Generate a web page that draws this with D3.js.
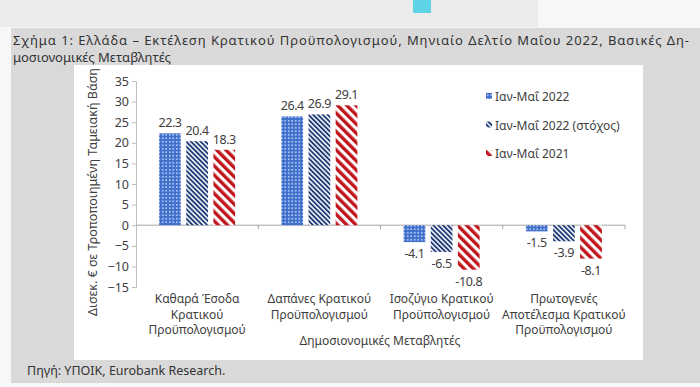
<!DOCTYPE html>
<html>
<head>
<meta charset="utf-8">
<script src="https://cdn.jsdelivr.net/npm/d3@7"></script>
<style>
  body { margin: 0; background: #f7f7f7; }
  svg text { font-family: "Noto Sans", sans-serif; fill: #404040; }
</style>
</head>
<body>
<div id="chart"></div>
<script>
var categories = [
  ["Καθαρά Έσοδα", "Κρατικού", "Προϋπολογισμού"],
  ["Δαπάνες Κρατικού", "Προϋπολογισμού"],
  ["Ισοζύγιο Κρατικού", "Προϋπολογισμού"],
  ["Πρωτογενές", "Αποτέλεσμα Κρατικού", "Προϋπολογισμού"]
];
var seriesNames = ["Ιαν-Μαΐ 2022", "Ιαν-Μαΐ 2022 (στόχος)", "Ιαν-Μαΐ 2021"];
var actual2022 = [22.3, 26.4, -4.1, -1.5];
var target2022 = [20.4, 26.9, -6.5, -3.9];
var actual2021 = [18.3, 29.1, -10.8, -8.1];
var yTicks = [35, 30, 25, 20, 15, 10, 5, 0, -5, -10, -15];

var width = 700, height = 387;

var svg = d3.select("#chart").append("svg")
    .attr("width", width).attr("height", height);

/* patterns */
var defs = svg.append("defs");
var dots = defs.append("pattern").attr("id", "dots")
    .attr("patternUnits", "userSpaceOnUse").attr("width", 3.5).attr("height", 3.5);
dots.append("rect").attr("width", 3.5).attr("height", 3.5).attr("fill", "#3f6fcc");
dots.append("circle").attr("cx", 1.75).attr("cy", 1.75).attr("r", 0.8).attr("fill", "#dfe8fb");

var navy = defs.append("pattern").attr("id", "navy")
    .attr("patternUnits", "userSpaceOnUse").attr("width", 3.4).attr("height", 3.4)
    .attr("patternTransform", "rotate(-45)");
navy.append("rect").attr("width", 3.4).attr("height", 3.4).attr("fill", "#ffffff");
navy.append("rect").attr("width", 1.9).attr("height", 3.4).attr("fill", "#1f3a78");

var red = defs.append("pattern").attr("id", "red")
    .attr("patternUnits", "userSpaceOnUse").attr("width", 6.5).attr("height", 6.5)
    .attr("patternTransform", "rotate(-45)");
red.append("rect").attr("width", 6.5).attr("height", 6.5).attr("fill", "#ffffff");
red.append("rect").attr("width", 3.4).attr("height", 6.5).attr("fill", "#c0161c");

var fills = ["url(#dots)", "url(#navy)", "url(#red)"];

/* background panels */
svg.append("rect").attr("x", 0).attr("y", 0).attr("width", 538).attr("height", 27).attr("fill", "#ebebeb");
svg.append("rect").attr("x", 413).attr("y", 0).attr("width", 18).attr("height", 13).attr("fill", "#5fd3e6");
svg.append("rect").attr("x", 11).attr("y", 28).attr("width", 689).attr("height", 355).attr("fill", "#d9d9d9");
svg.append("rect").attr("x", 74).attr("y", 65).attr("width", 569).attr("height", 295).attr("fill", "#ffffff");

/* title */
var title = svg.append("text").attr("x", 13).attr("y", 45)
    .style("font-size", "13px").style("fill", "#333");
title.append("tspan").attr("x", 13).attr("textLength", 676)
    .text("Σχήμα 1: Ελλάδα – Εκτέλεση Κρατικού Προϋπολογισμού, Μηνιαίο Δελτίο Μαΐου 2022, Βασικές Δη-");
title.append("tspan").attr("x", 13).attr("dy", 16.5)
    .text("μοσιονομικές Μεταβλητές");

var x0 = d3.scaleBand().domain(d3.range(categories.length))
    .range([136, 625]).padding(0);
var x1 = d3.scaleBand().domain(d3.range(3))
    .range([0, 76]).paddingInner(0.2);
var y = d3.scaleLinear().domain([-15, 35]).range([287, 81]);

/* y axis */
var yAxis = svg.append("g").attr("transform", "translate(136,0)")
    .call(d3.axisLeft(y).tickValues(yTicks).tickSize(4).tickPadding(3));
yAxis.select(".domain").attr("stroke", "#bfbfbf");
yAxis.selectAll(".tick line").attr("stroke", "#bfbfbf");
yAxis.selectAll(".tick text").style("font-size", "12.5px").style("fill", "#404040");

/* zero line */
svg.append("line").attr("x1", 136).attr("x2", 625)
    .attr("y1", y(0)).attr("y2", y(0)).attr("stroke", "#a6a6a6");
svg.selectAll(".ctick").data(d3.range(1, categories.length + 1)).enter()
    .append("line")
    .attr("x1", function(d) { return 136 + d * x0.bandwidth(); })
    .attr("x2", function(d) { return 136 + d * x0.bandwidth(); })
    .attr("y1", y(0)).attr("y2", y(0) + 4).attr("stroke", "#a6a6a6");

/* bars */
var series = [actual2022, target2022, actual2021];
var rows = [];
series.forEach(function(s, si) {
  s.forEach(function(v, ci) { rows.push({s: si, c: ci, v: v}); });
});

var offset = (x0.bandwidth() - 76) / 2;
svg.selectAll(".bar").data(rows).enter().append("rect")
    .attr("x", function(d) { return x0(d.c) + offset + x1(d.s); })
    .attr("width", x1.bandwidth())
    .attr("y", function(d) { return y(Math.max(0, d.v)); })
    .attr("height", function(d) { return Math.abs(y(d.v) - y(0)); })
    .attr("fill", function(d) { return fills[d.s]; });

svg.selectAll(".lbl").data(rows).enter().append("text")
    .attr("x", function(d) { return x0(d.c) + offset + x1(d.s) + x1.bandwidth() / 2; })
    .attr("y", function(d) { return d.v >= 0 ? y(d.v) - 6 : y(d.v) + 16; })
    .attr("text-anchor", "middle")
    .style("font-size", "12.5px")
    .style("letter-spacing", "-0.4px")
    .text(function(d) { return d.v.toFixed(1); });

/* category labels */
categories.forEach(function(lines, i) {
  var t = svg.append("text")
      .attr("x", x0(i) + x0.bandwidth() / 2)
      .attr("y", 303)
      .attr("text-anchor", "middle")
      .style("font-size", "12px");
  lines.forEach(function(l, k) {
    t.append("tspan").attr("x", x0(i) + x0.bandwidth() / 2)
        .attr("dy", k == 0 ? 0 : 15.5).text(l);
  });
});

svg.append("text").attr("x", 380).attr("y", 345)
    .attr("text-anchor", "middle").style("font-size", "12px")
    .text("Δημοσιονομικές Μεταβλητές");

svg.append("text")
    .attr("transform", "translate(97,192) rotate(-90)")
    .attr("text-anchor", "middle").style("font-size", "12.5px")
    .text("Δισεκ. € σε Τροποποιημένη Ταμειακή Βάση");

/* legend */
var legend = svg.selectAll(".leg").data(seriesNames).enter().append("g")
    .attr("transform", function(d, i) { return "translate(486," + (97 + i * 28.5) + ")"; });
legend.append("rect").attr("x", 0).attr("y", -4).attr("width", 6).attr("height", 6)
    .attr("fill", function(d, i) { return fills[i]; });
legend.append("text").attr("x", 9).attr("y", 4)
    .style("font-size", "12px")
    .text(function(d) { return d; });

/* source */
svg.append("text").attr("x", 27).attr("y", 375)
    .style("font-size", "12.5px").style("fill", "#333")
    .text("Πηγή: ΥΠΟΙΚ, Eurobank Research.");
</script>
</body>
</html>
